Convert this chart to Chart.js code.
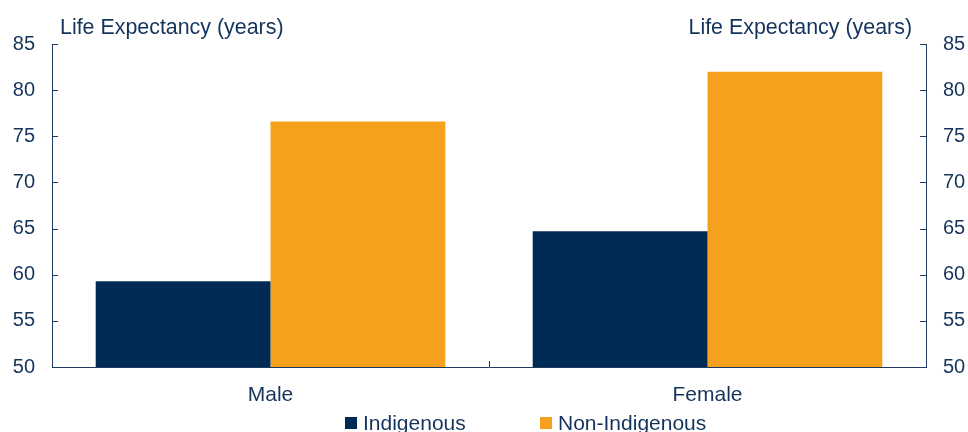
<!DOCTYPE html>
<html lang="en">
<head>
  <meta charset="UTF-8" />
  <title>Life Expectancy</title>
  <script src="https://cdn.jsdelivr.net/npm/chart.js"></script>
  <style>
    html,body{margin:0;padding:0;background:#fff}
    .wrap{width:968px;height:432px;position:relative}
  </style>
</head>
<body>
<div class="wrap"><canvas id="lifeChart"></canvas></div>
<script>
const categories = ['Male', 'Female'];
const indigenous = [59.3, 64.7];
const nonIndigenous = [76.6, 82.0];
const seriesNames = ['Indigenous', 'Non-Indigenous'];
const yMin = 50, yMax = 85, yStep = 5;
const axisTitle = 'Life Expectancy (years)';

const NAVY = '#002b55';
const ORANGE = '#f5a11e';
const TEXT = '#14345c';
const AXIS = '#1f3a60';
const FONT = '"Liberation Sans", Arial, Helvetica, sans-serif';

// inward ticks, top titles and the legend
const decor = {
  id: 'decor',
  afterDraw(chart) {
    const ctx = chart.ctx, a = chart.chartArea;
    const y = chart.scales.y, x = chart.scales.x;
    ctx.save();
    ctx.strokeStyle = AXIS;
    ctx.lineWidth = 1;
    ctx.beginPath();
    y.ticks.forEach(t => {
      const py = Math.round(y.getPixelForValue(t.value)) + 0.5;
      ctx.moveTo(a.left, py); ctx.lineTo(a.left + 6, py);
      ctx.moveTo(a.right - 6, py); ctx.lineTo(a.right, py);
    });
    for (let i = 0; i < categories.length - 1; i++) {
      const px = Math.round((x.getPixelForValue(i) + x.getPixelForValue(i + 1)) / 2) + 0.5;
      ctx.moveTo(px, a.bottom); ctx.lineTo(px, a.bottom - 6);
    }
    ctx.stroke();

    ctx.fillStyle = TEXT;
    ctx.font = '21.4px ' + FONT;
    ctx.textBaseline = 'alphabetic';
    ctx.textAlign = 'left';
    ctx.fillText(axisTitle, a.left + 8, a.top - 10);
    ctx.textAlign = 'right';
    ctx.fillText(axisTitle, a.right - 14, a.top - 10);

    // legend
    ctx.font = '21px ' + FONT;
    ctx.textAlign = 'left';
    ctx.textBaseline = 'middle';
    const legendY = 423;
    const starts = [345, 540];
    chart.data.datasets.forEach((ds, i) => {
      ctx.fillStyle = ds.backgroundColor;
      ctx.fillRect(starts[i], legendY - 6, 12, 12);
      ctx.fillStyle = TEXT;
      ctx.fillText(ds.label, starts[i] + 18, legendY + 1);
    });
    ctx.restore();
  }
};

const yTicks = {
  color: TEXT,
  font: { size: 20, family: FONT },
  padding: 17,
  stepSize: yStep
};

new Chart(document.getElementById('lifeChart'), {
  type: 'bar',
  data: {
    labels: categories,
    datasets: [
      { label: seriesNames[0], data: indigenous, backgroundColor: NAVY },
      { label: seriesNames[1], data: nonIndigenous, backgroundColor: ORANGE }
    ]
  },
  options: {
    responsive: true,
    maintainAspectRatio: false,
    animation: false,
    categoryPercentage: 0.8,
    barPercentage: 1.0,
    layout: { padding: { top: 44, bottom: 25, left: 0, right: 0 } },
    plugins: { legend: { display: false }, tooltip: { enabled: false } },
    scales: {
      x: {
        grid: { display: false, drawTicks: false },
        border: { display: true, color: AXIS, width: 1 },
        ticks: { color: TEXT, font: { size: 21, family: FONT }, padding: 16 },
        afterFit(s) { s.height = 40; }
      },
      y: {
        position: 'left',
        min: yMin, max: yMax,
        grid: { display: false, drawTicks: false },
        border: { display: true, color: AXIS, width: 1 },
        ticks: yTicks,
        afterFit(s) { s.width = 52; }
      },
      y2: {
        position: 'right',
        min: yMin, max: yMax,
        grid: { display: false, drawTicks: false },
        border: { display: true, color: AXIS, width: 1 },
        ticks: yTicks,
        afterFit(s) { s.width = 42; }
      }
    }
  },
  plugins: [decor]
});
</script>
</body>
</html>
